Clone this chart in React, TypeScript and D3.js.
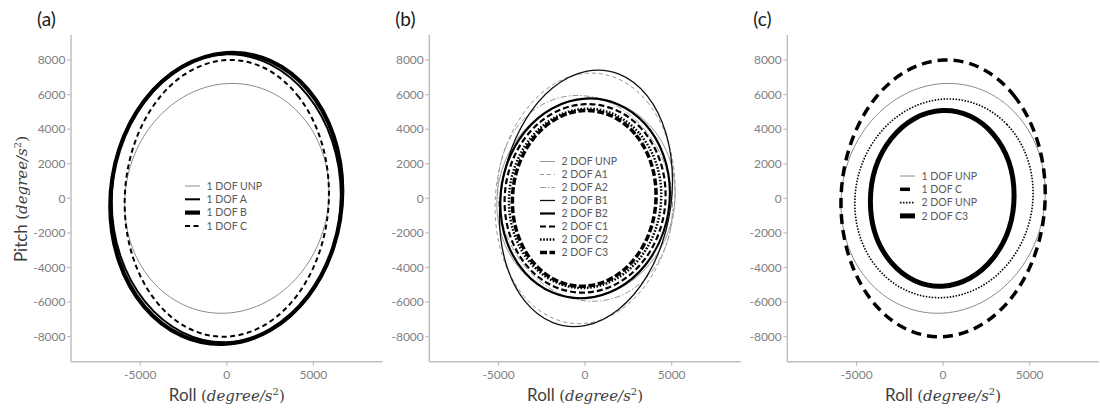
import React from 'react';
import * as d3 from 'd3';

type Pt = [number, number];

// Roll / pitch key points (degree/s²) read around each loop: rightmost, upper-right, top, upper-left, leftmost, ...
const oneDofUnp: Pt[] = [[5900, 350], [4170, 4940], [0, 6640], [-4170, 4450], [-5900, -350], [-4170, -4940], [0, -6640], [4170, -4450]];
const oneDofA: Pt[] = [[6590, 150], [4650, 5990], [-30, 8330], [-4710, 5790], [-6650, -150], [-4710, -5990], [-30, -8330], [4650, -5790]];
const oneDofB: Pt[] = [[6670, 440], [4710, 6260], [-30, 8410], [-4770, 5630], [-6730, -440], [-4770, -6260], [-30, -8410], [4710, -5630]];
const oneDofC: Pt[] = [[5900, 280], [4170, 5850], [0, 8000], [-4170, 5460], [-5900, -280], [-4170, -5850], [0, -8000], [4170, -5460]];
const twoDofUnp: Pt[] = [[5200, 300], [3690, 4270], [50, 5740], [-3590, 3850], [-5100, -300], [-3590, -4270], [50, -5740], [3690, -3850]];
const twoDofA1: Pt[] = [[5200, 510], [3680, 5470], [0, 7230], [-3680, 4760], [-5200, -510], [-3680, -5470], [0, -7230], [3680, -4760]];
const twoDofA2: Pt[] = [[5050, -520], [3570, 3820], [0, 5930], [-3570, 4560], [-5050, 520], [-3570, -3820], [0, -5930], [3570, -4560]];
const twoDofB1: Pt[] = [[5050, 1030], [3590, 5930], [50, 7350], [-3490, 4470], [-4950, -1030], [-3490, -5930], [50, -7350], [3590, -4470]];
const twoDofB2: Pt[] = [[4900, 300], [3470, 4300], [0, 5770], [-3470, 3870], [-4900, -300], [-3470, -4300], [0, -5770], [3470, -3870]];
const twoDofC1: Pt[] = [[4650, 190], [3290, 3990], [0, 5450], [-3290, 3720], [-4650, -190], [-3290, -3990], [0, -5450], [3290, -3720]];
const twoDofC2: Pt[] = [[4400, 180], [3110, 3790], [0, 5180], [-3110, 3530], [-4400, -180], [-3110, -3790], [0, -5180], [3110, -3530]];
const twoDofC3: Pt[] = [[4100, 180], [2890, 3720], [-50, 5080], [-2990, 3460], [-4200, -180], [-2990, -3720], [-50, -5080], [2890, -3460]];

const yTicks = [-8000, -6000, -4000, -2000, 0, 2000, 4000, 6000, 8000];
const xTicks = [-5000, 0, 5000];
const xDomain: [number, number] = [-9000, 9000];
const yDomain: [number, number] = [-9450, 9450];

type Style = { stroke: string; width: number; dash?: string };
type Series = { name: string; data: Pt[]; style: Style };

const GRAY: Style = { stroke: '#8c8c8c', width: 1 };

const panels: {
  label: string; axisX: number; legendX: number; legendY: number; legendStep: number; series: Series[];
}[] = [
  {
    label: '(a)', axisX: 71, legendX: 185, legendY: 186, legendStep: 13.3,
    series: [
      { name: '1 DOF UNP', data: oneDofUnp, style: GRAY },
      { name: '1 DOF A', data: oneDofA, style: { stroke: '#000', width: 2 } },
      { name: '1 DOF B', data: oneDofB, style: { stroke: '#000', width: 4.2 } },
      { name: '1 DOF C', data: oneDofC, style: { stroke: '#000', width: 2, dash: '5 3.5' } },
    ],
  },
  {
    label: '(b)', axisX: 429.3, legendX: 540, legendY: 161.5, legendStep: 13,
    series: [
      { name: '2 DOF UNP', data: twoDofUnp, style: { stroke: '#999', width: 1 } },
      { name: '2 DOF A1', data: twoDofA1, style: { stroke: '#999', width: 1, dash: '4 3' } },
      { name: '2 DOF A2', data: twoDofA2, style: { stroke: '#999', width: 1, dash: '6 2 1.5 2' } },
      { name: '2 DOF B1', data: twoDofB1, style: { stroke: '#111', width: 1.3 } },
      { name: '2 DOF B2', data: twoDofB2, style: { stroke: '#000', width: 2.2 } },
      { name: '2 DOF C1', data: twoDofC1, style: { stroke: '#000', width: 2.2, dash: '6 3' } },
      { name: '2 DOF C2', data: twoDofC2, style: { stroke: '#000', width: 2.5, dash: '1.6 1.6' } },
      { name: '2 DOF C3', data: twoDofC3, style: { stroke: '#000', width: 3.5, dash: '7 2.5' } },
    ],
  },
  {
    label: '(c)', axisX: 787.3, legendX: 900, legendY: 176, legendStep: 13.3,
    series: [
      { name: '1 DOF UNP', data: oneDofUnp, style: GRAY },
      { name: '1 DOF C', data: oneDofC, style: { stroke: '#000', width: 3.5, dash: '10 6' } },
      { name: '2 DOF UNP', data: twoDofUnp, style: { stroke: '#000', width: 1.6, dash: '1.5 1.5' } },
      { name: '2 DOF C3', data: twoDofC3, style: { stroke: '#000', width: 5 } },
    ],
  },
];

const PANEL_W = 311.6;
const Y_TOP = 35;
const Y_BOT = 361.7;
const SANS = 'Lato, "Open Sans", sans-serif';
const SERIF = '"DejaVu Serif", "Liberation Serif", serif';

function AxisTitle({ x, y, word, rotate }: { x: number; y: number; word: string; rotate?: boolean }) {
  return (
    <text
      x={x}
      y={y}
      textAnchor="middle"
      fill="#3f3f3f"
      fontSize={17}
      fontFamily={SANS}
      transform={rotate ? `rotate(-90 ${x} ${y})` : undefined}
    >
      <tspan>{word} </tspan>
      <tspan fontFamily={SERIF} fontSize={15}>(</tspan>
      <tspan fontFamily={SERIF} fontSize={15} fontStyle="italic">degree/s</tspan>
      <tspan fontFamily={SERIF} fontSize={10} dy={-6}>2</tspan>
      <tspan fontFamily={SERIF} fontSize={15} dy={6}>)</tspan>
    </text>
  );
}

function Panel({ p }: { p: (typeof panels)[number] }) {
  const x = d3.scaleLinear().domain(xDomain).range([p.axisX, p.axisX + PANEL_W]);
  const y = d3.scaleLinear().domain(yDomain).range([Y_BOT, Y_TOP]);
  const line = d3
    .line<Pt>()
    .x((d) => x(d[0]))
    .y((d) => y(d[1]))
    .curve(d3.curveCardinalClosed.tension(-0.126));
  return (
    <g>
      <text x={p.axisX - 34} y={26} fontSize={19} fontFamily={SANS} fill="#1a1a1a">{p.label}</text>
      {/* axes */}
      <line x1={p.axisX} x2={p.axisX} y1={Y_TOP} y2={Y_BOT} stroke="#bfbfbf" strokeWidth={1.5} />
      <line x1={p.axisX} x2={p.axisX + PANEL_W} y1={Y_BOT} y2={Y_BOT} stroke="#bfbfbf" strokeWidth={1.5} />
      {yTicks.map((t) => (
        <g key={'y' + t}>
          <line x1={p.axisX - 4} x2={p.axisX} y1={y(t)} y2={y(t)} stroke="#bfbfbf" strokeWidth={1.2} />
          <text x={p.axisX - 5.5} y={y(t)} dy="0.35em" textAnchor="end" fontSize={12} fontFamily={SANS} fill="#7f7f7f">{t}</text>
        </g>
      ))}
      {xTicks.map((t) => (
        <g key={'x' + t}>
          <line x1={x(t)} x2={x(t)} y1={Y_BOT} y2={Y_BOT + 4} stroke="#bfbfbf" strokeWidth={1.2} />
          <text x={x(t)} y={375} dy="0.35em" textAnchor="middle" fontSize={12} fontFamily={SANS} fill="#7f7f7f">{t}</text>
        </g>
      ))}
      {/* loops */}
      {p.series.map((s) => (
        <path
          key={s.name}
          d={line(s.data) || ''}
          fill="none"
          stroke={s.style.stroke}
          strokeWidth={s.style.width}
          strokeDasharray={s.style.dash}
        />
      ))}
      {/* legend */}
      {p.series.map((s, i) => {
        const ly = p.legendY + i * p.legendStep;
        return (
          <g key={'lg' + s.name}>
            <line x1={p.legendX} x2={p.legendX + 15} y1={ly} y2={ly} stroke={s.style.stroke} strokeWidth={s.style.width} strokeDasharray={s.style.dash} />
            <text x={p.legendX + 21.5} y={ly} dy="0.35em" fontSize={10.5} fontFamily={SANS} fill="#595959">{s.name}</text>
          </g>
        );
      })}
      <AxisTitle x={x(0)} y={401} word="Roll" />
    </g>
  );
}

export default function App() {
  return (
    <svg width={1100} height={408} style={{ position: 'absolute', left: 0, top: 0, background: '#fff' }}>
      <rect width={1100} height={408} fill="#fff" />
      {panels.map((p) => (
        <Panel key={p.label} p={p} />
      ))}
      <AxisTitle x={27} y={199} word="Pitch" rotate />
    </svg>
  );
}
